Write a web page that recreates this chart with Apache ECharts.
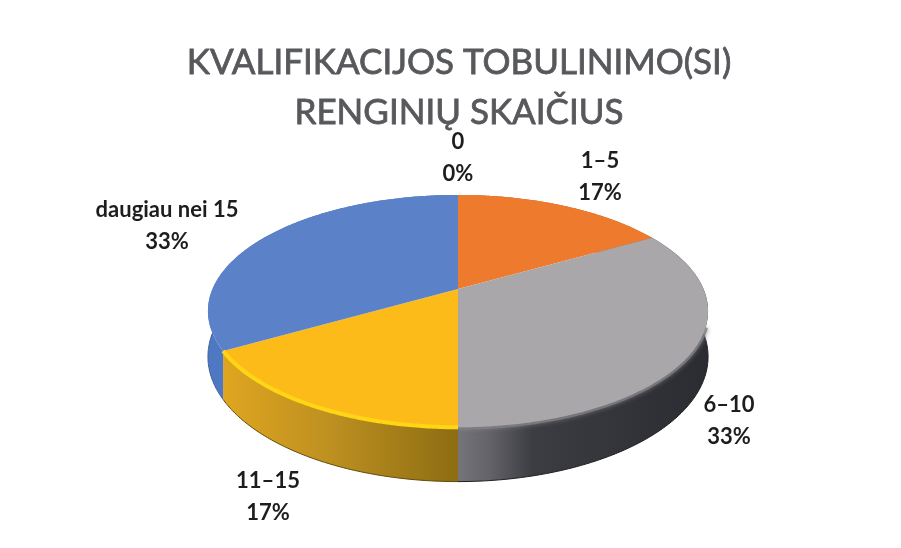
<!DOCTYPE html>
<html>
<head>
<meta charset="utf-8">
<title>KVALIFIKACIJOS TOBULINIMO(SI) RENGINIŲ SKAIČIUS</title>
<script src="https://cdn.jsdelivr.net/npm/echarts@6/dist/echarts.min.js"></script>
<style>
    html, body { margin: 0; padding: 0; background: #fff; }
    #chart { width: 901px; height: 548px; }
</style>
</head>
<body>
<div id="chart"></div>
<script>
    // data
    const categories = ['0', '1–5', '6–10', '11–15', 'daugiau nei 15'];
    const values = [0, 1, 2, 1, 2];

    // look of the slices
    const topColors = ['#5b82c8', '#ee7a2e', '#a9a7aa', '#fdbb1a', '#5b82c8'];
    const rimColors = [null, null, '#7f7e83', '#ffd516', null];
    const rimOnTop = [false, false, false, true, false];
    const edgeColors = [null, null, '#1e1f23', '#5f4808', '#3d5f9e'];
    const labelCenters = [[458, 158], [600, 177], [729, 421], [268, 497], [167, 226]];

    // the pie is a tilted disc: a circle seen in perspective
    const cx = 458, cy = 289;
    const scaleX = 245.5, scaleY = 112, tilt = 0.19, depth = 44;
    const rimStart = 1.9; // behind this the wall is hidden, so no bevel there
    const total = values.reduce((a, b) => a + b, 0);

    function project(angle, drop) {
        let u = Math.sin(angle), v = Math.cos(angle);
        let w = 1 + tilt * v;
        return [cx + scaleX * u / w, cy - scaleY * v / w + drop * depth / w];
    }

    function arc(a0, a1, drop) {
        let pts = [];
        let n = Math.max(2, Math.ceil(Math.abs(a1 - a0) / 0.01));
        for (let i = 0; i <= n; i++) {
            pts.push(project(a0 + (a1 - a0) * i / n, drop));
        }
        return pts;
    }

    function wallFill(i) {
        const G = echarts.graphic.LinearGradient;
        if (i == 2) {
            return new G(458, 0, 707, 0, [
                { offset: 0, color: '#747479' },
                { offset: 0.12, color: '#64646a' },
                { offset: 0.3, color: '#3c3d42' },
                { offset: 1, color: '#2b2c31' }
            ], true);
        }
        if (i == 3) {
            return new G(225, 0, 458, 0, [
                { offset: 0, color: '#dfa520' },
                { offset: 0.45, color: '#bd9020' },
                { offset: 1, color: '#8d6d12' }
            ], true);
        }
        return i == 1 ? '#b85e20' : '#4f78c2';
    }

    function renderSlice(params, api) {
        let i = params.dataIndex;
        let before = 0;
        for (let k = 0; k < i; k++) before += values[k];
        let a0 = before / total * Math.PI * 2;
        let a1 = (before + api.value(0)) / total * Math.PI * 2;
        let children = [];

        if (a1 > a0) {
            let rim = arc(a0, a1, 0);
            let bottom = arc(a0, a1, 1);
            children.push({
                type: 'polygon',
                z2: 1,
                shape: { points: rim.concat(bottom.slice().reverse()) },
                style: { fill: wallFill(i) }
            });
            if (edgeColors[i]) {
                children.push({
                    type: 'polyline',
                    z2: 2,
                    shape: { points: bottom },
                    style: { fill: null, stroke: edgeColors[i], lineWidth: 1 }
                });
            }
            if (rimColors[i]) {
                children.push({
                    type: 'polyline',
                    z2: rimOnTop[i] ? 5 : 3,
                    shape: { points: arc(Math.max(a0, rimStart), a1, 0) },
                    style: rimOnTop[i] ? {
                        fill: null,
                        stroke: rimColors[i],
                        lineWidth: 4
                    } : {
                        fill: null,
                        stroke: rimColors[i],
                        lineWidth: 5,
                        opacity: 0.8,
                        shadowBlur: 5,
                        shadowColor: rimColors[i]
                    }
                });
            }
            children.push({
                type: 'polygon',
                z2: 4,
                shape: { points: [[cx, cy]].concat(rim) },
                style: { fill: topColors[i] }
            });
        }

        let percent = Math.round(api.value(0) / total * 100);
        children.push({
            type: 'text',
            z2: 6,
            style: {
                x: labelCenters[i][0],
                y: labelCenters[i][1],
                text: categories[i] + '\n' + percent + '%',
                align: 'center',
                verticalAlign: 'middle',
                fill: '#1d1d1f',
                font: 'bold 22px Lato',
                lineHeight: 32
            }
        });
        return { type: 'group', children: children };
    }

    var chart = echarts.init(document.getElementById('chart'));
    chart.setOption({
        backgroundColor: '#ffffff',
        animation: false,
        title: {
            text: 'KVALIFIKACIJOS TOBULINIMO(SI)\nRENGINIŲ SKAIČIUS',
            left: 454,
            top: 33,
            textAlign: 'center',
            textStyle: {
                color: '#57585c',
                fontFamily: 'Lato',
                fontSize: 35,
                fontWeight: 'normal',
                lineHeight: 50,
                textBorderColor: '#57585c',
                textBorderWidth: 0.8
            }
        },
        series: [{
            type: 'custom',
            coordinateSystem: 'none',
            renderItem: renderSlice,
            clip: false,
            data: values.map(v => [v])
        }]
    });
</script>
</body>
</html>
